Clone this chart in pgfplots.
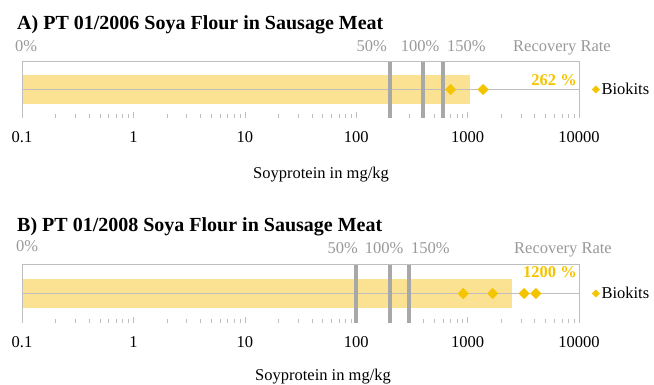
\documentclass[border=0pt]{standalone}
\usepackage{pgfplots}
\pgfplotsset{compat=1.18}
\usepackage{fontspec}
\setmainfont{Liberation Serif}
\definecolor{barY}{HTML}{FBE292}
\definecolor{gold}{HTML}{F5C400}
\definecolor{vgray}{HTML}{A8A8A8}
\definecolor{fgray}{HTML}{BEBEBE}
\definecolor{tgray}{HTML}{999999}
\newcommand{\ft}{\fontsize{16.5}{16.5}\selectfont}
\begin{document}
\begin{tikzpicture}
\useasboundingbox (0,0) rectangle (654pt,385pt);
% ---------- A ----------
\begin{axis}[at={(22pt,267pt)}, anchor=south west, height=57pt,
  scale only axis, width=557pt,
  xmode=log, xmin=0.1, xmax=10000, ymin=0, ymax=1,
  ytick=\empty,
  axis line style={draw=none},
  xtick={0.1,1,10,100,1000,10000},
  xticklabels={0.1,1,10,100,1000,10000},
  minor xtick={0.2,0.3,0.4,0.5,0.6,0.7,0.8,0.9,2,3,4,5,6,7,8,9,20,30,40,50,60,70,80,90,200,300,400,500,600,700,800,900,2000,3000,4000,5000,6000,7000,8000,9000},
  xtick pos=bottom,
  tick align=inside,
  major tick length=6pt, minor tick length=4pt,
  tick style={fgray, thin},
  xticklabel style={font=\ft, anchor=base, yshift=-25pt},
  clip=false,
  legend style={at={(1.0,0.5)}, anchor=west, draw=none, fill=none, font=\ft, inner sep=0pt, xshift=13pt,
    /tikz/every even column/.append style={column sep=4pt}},
  legend image code/.code={\draw[mark size=2.6pt] plot coordinates {(0.1cm,0cm)};}]
\addplot[fill=barY, draw=none, forget plot] coordinates {(0.1,0.25) (1060,0.25) (1060,0.75) (0.1,0.75)} -- cycle;
\addplot[fgray, thin, forget plot] coordinates {(0.1,0.5) (10000,0.5)};
\addplot[vgray, line width=4pt, forget plot] coordinates {(200,0) (200,1)};
\addplot[vgray, line width=4pt, forget plot] coordinates {(400,0) (400,1)};
\addplot[vgray, line width=4pt, forget plot] coordinates {(600,0) (600,1)};
\addplot[only marks, mark=square*, mark options={rotate=45}, mark size=3.7pt, gold] coordinates {(705,0.5) (1380,0.5)};
\addlegendentry{Biokits}
\draw[fgray] (rel axis cs:0,0) -- (rel axis cs:0,1) -- (rel axis cs:1,1) -- (rel axis cs:1,0);
\end{axis}
\node[anchor=base west, font=\fontsize{20}{20}\selectfont\bfseries, inner sep=0pt] at (17pt,355pt) {A) PT 01/2006 Soya Flour in Sausage Meat};
\node[anchor=base west, font=\ft, text=tgray, inner sep=0pt] at (15pt,333pt) {0\%};
\node[anchor=base east, font=\ft, text=tgray, inner sep=0pt] at (387pt,333pt) {50\%};
\node[anchor=base, font=\ft, text=tgray, inner sep=0pt] at (420pt,333pt) {100\%};
\node[anchor=base west, font=\ft, text=tgray, inner sep=0pt] at (447pt,333pt) {150\%};
\node[anchor=base west, font=\ft, text=tgray, inner sep=0pt] at (513pt,333pt) {Recovery Rate};
\node[anchor=base east, font=\ft\bfseries, text=gold, inner sep=0pt] at (577pt,299pt) {262 \%};
\node[anchor=base, font=\ft, inner sep=0pt] at (321pt,206pt) {Soyprotein in mg/kg};
% ---------- B ----------
\begin{axis}[at={(22pt,62pt)}, anchor=south west, height=59pt,
  scale only axis, width=557pt,
  xmode=log, xmin=0.1, xmax=10000, ymin=0, ymax=1,
  ytick=\empty,
  axis line style={draw=none},
  xtick={0.1,1,10,100,1000,10000},
  xticklabels={0.1,1,10,100,1000,10000},
  minor xtick={0.2,0.3,0.4,0.5,0.6,0.7,0.8,0.9,2,3,4,5,6,7,8,9,20,30,40,50,60,70,80,90,200,300,400,500,600,700,800,900,2000,3000,4000,5000,6000,7000,8000,9000},
  xtick pos=bottom,
  tick align=inside,
  major tick length=6pt, minor tick length=4pt,
  tick style={fgray, thin},
  xticklabel style={font=\ft, anchor=base, yshift=-25pt},
  clip=false,
  legend style={at={(1.0,0.5)}, anchor=west, draw=none, fill=none, font=\ft, inner sep=0pt, xshift=13pt,
    /tikz/every even column/.append style={column sep=4pt}},
  legend image code/.code={\draw[mark size=2.6pt] plot coordinates {(0.1cm,0cm)};}]
\addplot[fill=barY, draw=none, forget plot] coordinates {(0.1,0.25) (2500,0.25) (2500,0.75) (0.1,0.75)} -- cycle;
\addplot[fgray, thin, forget plot] coordinates {(0.1,0.5) (10000,0.5)};
\addplot[vgray, line width=4pt, forget plot] coordinates {(100,0) (100,1)};
\addplot[vgray, line width=4pt, forget plot] coordinates {(200,0) (200,1)};
\addplot[vgray, line width=4pt, forget plot] coordinates {(300,0) (300,1)};
\addplot[only marks, mark=square*, mark options={rotate=45}, mark size=3.7pt, gold] coordinates {(914,0.5) (1675,0.5) (3220,0.5) (4100,0.5)};
\addlegendentry{Biokits}
\draw[fgray] (rel axis cs:0,0) -- (rel axis cs:0,1) -- (rel axis cs:1,1) -- (rel axis cs:1,0);
\end{axis}
\node[anchor=base west, font=\fontsize{20}{20}\selectfont\bfseries, inner sep=0pt] at (17pt,153pt) {B) PT 01/2008 Soya Flour in Sausage Meat};
\node[anchor=base west, font=\ft, text=tgray, inner sep=0pt] at (16pt,133pt) {0\%};
\node[anchor=base east, font=\ft, text=tgray, inner sep=0pt] at (358pt,131pt) {50\%};
\node[anchor=base, font=\ft, text=tgray, inner sep=0pt] at (384pt,131pt) {100\%};
\node[anchor=base west, font=\ft, text=tgray, inner sep=0pt] at (411pt,131pt) {150\%};
\node[anchor=base west, font=\ft, text=tgray, inner sep=0pt] at (514pt,131pt) {Recovery Rate};
\node[anchor=base east, font=\ft\bfseries, text=gold, inner sep=0pt] at (577pt,107pt) {1200 \%};
\node[anchor=base, font=\ft, inner sep=0pt] at (323pt,4pt) {Soyprotein in mg/kg};
\end{tikzpicture}
\end{document}
